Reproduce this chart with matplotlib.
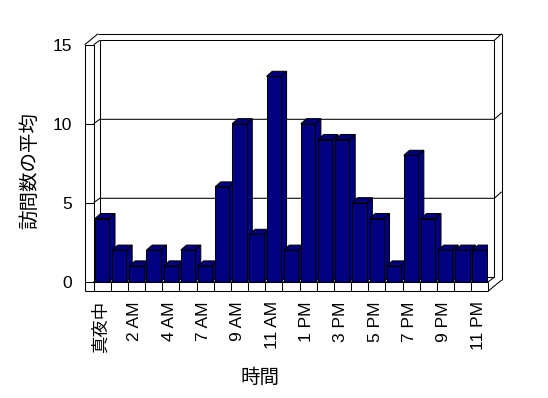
import numpy as np
import matplotlib
matplotlib.use("Agg")
import matplotlib.pyplot as plt
from matplotlib.patches import Polygon, Rectangle

plt.rcParams['font.family'] = ['Liberation Sans', 'Noto Sans CJK JP', 'DejaVu Sans']

# data
hours = ['真夜中', '1 AM', '2 AM', '3 AM', '4 AM', '6 AM', '7 AM', '8 AM', '9 AM',
         '10 AM', '11 AM', '12 PM', '1 PM', '2 PM', '3 PM', '4 PM', '5 PM', '6 PM',
         '7 PM', '8 PM', '9 PM', '10 PM', '11 PM']
avg_visits = [4, 2, 1, 2, 1, 2, 1, 6, 10, 3, 13, 2, 10, 9, 9, 5, 4, 1, 8, 4, 2, 2, 2]
y_ticks = [0, 5, 10, 15]

n = len(hours)
navy = '#000080'
lw = 0.75

fig = plt.figure(figsize=(5.48, 3.98), dpi=100)
ax = fig.add_axes([93.7 / 548, (398 - 281.7) / 398, 394.6 / 548, 237 / 398])
ax.set_xlim(0, n)
ax.set_ylim(0, 15)

# pixel -> data unit factors
PX = n / 394.6
PY = 15 / 237.0
WDX, WDY = 6 * PX, 4.4 * PY      # front plane -> back wall
SDX, SDY = 7.4 * PX, 6.6 * PY    # wall thickness
LWT = 9 * PX                     # left wall thickness
FLT = 9.3 * PY                   # floor thickness
BDX, BDY = 5.7 * PX, 5 * PY      # bar depth
BOFF, BW = 1.3 * PX, 14.3 * PX


def line(xs, ys, z=1):
    ax.plot(xs, ys, color='black', lw=lw, clip_on=False, zorder=z,
            solid_capstyle='butt')


top = 15
# back wall
line([WDX, WDX, n + WDX, n + WDX], [WDY, top + WDY, top + WDY, WDY])
line([WDX, n + WDX], [WDY, WDY])
# wall thickness on top / right
line([-LWT + WDX + SDX, n + WDX + SDX], [top + WDY + SDY] * 2)
line([n + WDX, n + WDX + SDX], [top + WDY, top + WDY + SDY])
line([n + WDX + SDX] * 2, [top + WDY + SDY, -FLT + WDY + SDY])
line([n, n + WDX + SDX], [-FLT, -FLT + WDY + SDY])
# left wall
line([-LWT, -LWT + WDX + SDX], [top, top + WDY + SDY])
line([0, WDX], [top, top + WDY])
line([-LWT, 0], [top, top])
line([-LWT, -LWT], [top, -FLT])
line([0, 0], [top, 0])
# gridlines
for v in y_ticks[1:-1]:
    line([0, WDX, n + WDX, n + WDX + SDX], [v, v + WDY, v + WDY, v + WDY + SDY])
# floor
line([WDX, 0, n, n + WDX], [WDY, 0, 0, WDY], z=1)
line([0, n], [0, 0], z=5)
line([-LWT, n], [-FLT, -FLT], z=5)
for i in range(n + 1):
    line([i, i], [0, -FLT], z=5)

# bars
for i, v in enumerate(avg_visits):
    x0 = i + BOFF
    z = 2 + i * 0.01
    side = [(x0 + BW, 0), (x0 + BW + BDX, BDY), (x0 + BW + BDX, v + BDY), (x0 + BW, v)]
    topf = [(x0, v), (x0 + BW, v), (x0 + BW + BDX, v + BDY), (x0 + BDX, v + BDY)]
    ax.add_patch(Polygon(side, closed=True, fc=navy, ec='black', lw=lw, zorder=z))
    ax.add_patch(Polygon(topf, closed=True, fc=navy, ec='black', lw=lw, zorder=z))
    ax.add_patch(Rectangle((x0, 0), BW, v, fc=navy, ec='black', lw=lw, zorder=z + 0.005))

for s in ax.spines.values():
    s.set_visible(False)
ax.patch.set_visible(False)

ax.set_yticks(y_ticks)
ax.set_yticklabels([str(t) for t in y_ticks])
ax.tick_params(axis='y', length=6.5, width=lw, direction='out', pad=9, labelsize=12.5)

xt = np.arange(0, n, 2)
ax.set_xticks(xt + 0.5 - 0.1)
ax.set_xticklabels([hours[i] for i in xt], rotation=90, va='top', ha='center')
ax.tick_params(axis='x', length=0, pad=14, labelsize=12.5)

fig.text(30 / 548, 1 - 171 / 398, '訪問数の平均', rotation=90, ha='center', va='center',
         fontsize=14, family=['Noto Sans CJK JP', 'DejaVu Sans'])
fig.text(260 / 548, 1 - 377 / 398, '時間', ha='center', va='center', fontsize=14,
         family=['Noto Sans CJK JP', 'DejaVu Sans'])

fig.savefig('out.png', dpi=100, facecolor='white')
